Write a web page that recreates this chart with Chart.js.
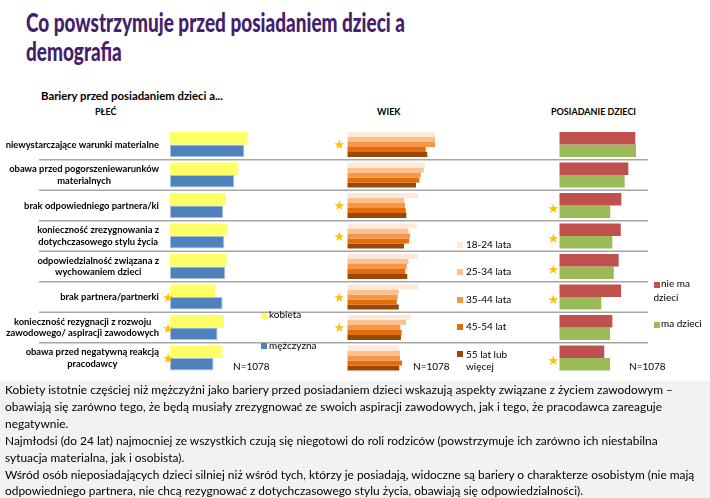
<!DOCTYPE html>
<html lang="pl">
<head>
<meta charset="UTF-8" />
<title>Co powstrzymuje przed posiadaniem dzieci a demografia</title>
<script src="https://cdn.jsdelivr.net/npm/chart.js@4"></script>
<style>
  html, body { margin: 0; padding: 0; background: #fff; }
  body { width: 710px; height: 498px; position: relative; overflow: hidden; font-family: 'Lato', 'Open Sans', Arial, sans-serif; color: #000; }
  canvas.layer { position: absolute; left: 0; top: 0; }
  .abs { position: absolute; white-space: nowrap; line-height: 12px; font-size: 10px; }
  .title { left: 26px; top: 8px; font-size: 26px; line-height: 28.5px; font-weight: 900; color: #44206b; transform-origin: 0 0; }
  .sub { left: 41px; top: 90px; font-size: 10.5px; font-weight: bold; transform-origin: 0 0; }
  .head { font-size: 9px; font-weight: bold; }
  .sq { position: absolute; width: 6px; height: 6px; }
  .note { left: 0; top: 381px; width: 710px; height: 117px; background: #f2f2f2; }
  .note-text { left: 5px; top: 382px; font-size: 12px; line-height: 16.9px; transform-origin: 0 0; }
</style>
</head>
<body>

<div class="abs note"></div>

<div class="abs title" id="title"><span id="title1">Co powstrzymuje przed posiadaniem dzieci a</span><br>demografia</div>
<div class="abs sub" id="sub">Bariery przed posiadaniem dzieci a...</div>
<div class="abs head" style="left:95px; top:106px;">PŁEĆ</div>
<div class="abs head" style="left:377px; top:106px;">WIEK</div>
<div class="abs head" style="left:551px; top:106px;">POSIADANIE DZIECI</div>

<canvas class="layer" id="chartPlec" width="710" height="498"></canvas>
<canvas class="layer" id="chartWiek" width="710" height="498"></canvas>
<canvas class="layer" id="chartDzieci" width="710" height="498"></canvas>

<!-- legendy -->
<div class="sq" style="left:261px; top:313px; background:#ffff66;"></div>
<div class="abs" style="left:269px; top:308px;">kobieta</div>
<div class="sq" style="left:261px; top:343px; background:#4f81bd;"></div>
<div class="abs" style="left:269px; top:339px;">mężczyzna</div>
<div class="abs" style="left:233px; top:360px;">N=1078</div>

<div class="sq" style="left:457px; top:242px; background:#fde9d9;"></div>
<div class="abs" style="left:466px; top:238px;">18-24 lata</div>
<div class="sq" style="left:457px; top:269px; background:#fac090;"></div>
<div class="abs" style="left:466px; top:265px;">25-34 lata</div>
<div class="sq" style="left:457px; top:297px; background:#f79646;"></div>
<div class="abs" style="left:466px; top:293px;">35-44 lata</div>
<div class="sq" style="left:457px; top:324px; background:#e46c0a;"></div>
<div class="abs" style="left:466px; top:320px;">45-54 lat</div>
<div class="sq" style="left:457px; top:351px; background:#984807;"></div>
<div class="abs" style="left:466px; top:347.5px; line-height:12.4px;">55 lat lub<br>więcej</div>
<div class="abs" style="left:413px; top:360px;">N=1078</div>

<div class="sq" style="left:653.5px; top:281.5px; background:#c0504d;"></div>
<div class="abs" style="left:661px; top:277px;">nie ma</div>
<div class="abs" style="left:653.5px; top:291px;">dzieci</div>
<div class="sq" style="left:653.5px; top:321.5px; background:#9bbb59;"></div>
<div class="abs" style="left:661px; top:317px;">ma dzieci</div>
<div class="abs" style="left:629px; top:360px;">N=1078</div>

<div class="abs note-text" id="note">
<span id="note1">Kobiety istotnie częściej niż mężczyźni jako bariery przed posiadaniem dzieci wskazują aspekty związane z życiem zawodowym –</span><br>
obawiają się zarówno tego, że będą musiały zrezygnować ze swoich aspiracji zawodowych, jak i tego, że pracodawca zareaguje<br>
negatywnie.<br>
Najmłodsi (do 24 lat) najmocniej ze wszystkich czują się niegotowi do roli rodziców (powstrzymuje ich zarówno ich niestabilna<br>
sytuacja materialna, jak i osobista).<br>
Wśród osób nieposiadających dzieci silniej niż wśród tych, którzy je posiadają, widoczne są bariery o charakterze osobistym (nie mają<br>
odpowiedniego partnera, nie chcą rezygnować z dotychczasowego stylu życia, obawiają się odpowiedzialności).
</div>

<script>
// ===========================================================
// Dane (% wskazań)
// ===========================================================
const categories = [
  "niewystarczające warunki materialne",
  ["obawa przed pogorszeniewarunków", "materialnych"],
  "brak odpowiedniego partnera/ki",
  ["konieczność zrezygnowania z", "dotychczasowego stylu życia"],
  ["odpowiedzialność związana z", "wychowaniem dzieci"],
  "brak partnera/partnerki",
  ["konieczność rezygnacji z rozwoju", "zawodowego/ aspiracji zawodowych"],
  ["obawa przed negatywną reakcją", "pracodawcy"]
];

// PŁEĆ
const kobieta   = [55.4, 48.8, 39.7, 40.7, 40.4, 32.4, 38.6, 37.4];
const mezczyzna = [53.1, 45.9, 38.1, 38.8, 39.5, 37.6, 34.0, 31.1];

// WIEK
const ageLabels = ["18-24 lata", "25-34 lata", "35-44 lata", "45-54 lat", "55 lat lub więcej"];
const wiek18_24 = [56.6, 50.1, 45.8, 44.8, 45.8, 46.1, 41.1, 33.2];
const wiek25_34 = [56.6, 49.3, 36.8, 39.4, 39.4, 33.2, 37.9, 34.0];
const wiek35_44 = [56.6, 47.4, 37.2, 40.5, 38.3, 32.5, 34.2, 34.0];
const wiek45_54 = [50.6, 46.5, 37.7, 39.8, 37.4, 31.9, 35.1, 35.3];
const wiek55    = [51.6, 44.3, 38.1, 36.6, 38.7, 33.2, 34.6, 33.5];

// POSIADANIE DZIECI
const nieMaDzieci = [54.3, 49.3, 44.3, 43.9, 42.4, 44.1, 37.9, 32.1];
const maDzieci    = [54.8, 46.7, 36.4, 37.9, 38.9, 30.0, 36.2, 36.2];

// istotne różnice (gwiazdki) – indeksy wierszy
const starsPlec   = [5, 6, 7];
const starsWiek   = [0, 2, 3, 5, 6];
const starsDzieci = [2, 3, 4, 5, 7];

// ===========================================================
// Pluginy: linie rozdzielające, etykiety kategorii, gwiazdki
// ===========================================================
const rowLines = {
  id: "rowLines",
  beforeDatasetsDraw(chart) {
    const { ctx } = chart;
    const y = chart.scales.y;
    ctx.save();
    ctx.strokeStyle = "#a6a6a6";
    ctx.lineWidth = 1.5;
    for (let i = 0; i < categories.length - 1; i++) {
      const py = (y.getPixelForValue(i) + y.getPixelForValue(i + 1)) / 2;
      ctx.beginPath();
      ctx.moveTo(39, py);
      ctx.lineTo(648, py);
      ctx.stroke();
    }
    ctx.restore();
  }
};

const catLabels = {
  id: "catLabels",
  afterDraw(chart) {
    const { ctx } = chart;
    const y = chart.scales.y;
    ctx.save();
    ctx.font = "bold 9.4px Lato";
    ctx.fillStyle = "#000";
    ctx.textAlign = "center";
    ctx.textBaseline = "middle";
    categories.forEach((lab, i) => {
      const lines = [].concat(lab);
      const w = Math.max(...lines.map((l) => ctx.measureText(l).width));
      const cx = 159 - w / 2;
      const cy = y.getPixelForValue(i);
      lines.forEach((l, j) => ctx.fillText(l, cx, cy + (j - (lines.length - 1) / 2) * 11.3));
    });
    ctx.restore();
  }
};

const stars = {
  id: "stars",
  afterDatasetsDraw(chart, args, opts) {
    if (!opts || !opts.rows) return;
    const { ctx, chartArea } = chart;
    const y = chart.scales.y;
    ctx.save();
    ctx.font = "13px 'DejaVu Sans'";
    ctx.fillStyle = "#ffc000";
    ctx.textAlign = "center";
    ctx.textBaseline = "middle";
    opts.rows.forEach((i) => ctx.fillText("★", chartArea.left + opts.dx, y.getPixelForValue(i) + opts.dy));
    ctx.restore();
  }
};

function makeChart(id, datasets, padding, starOpts, extra = []) {
  return new Chart(document.getElementById(id), {
    type: "bar",
    data: { labels: categories, datasets },
    options: {
      indexAxis: "y",
      responsive: false,
      animation: false,
      layout: { padding },
      datasets: { bar: { categoryPercentage: 0.82, barPercentage: 1, borderSkipped: false } },
      scales: {
        x: { display: false, min: 0, max: 100 },
        y: { display: false }
      },
      plugins: { legend: { display: false }, tooltip: { enabled: false }, stars: starOpts }
    },
    plugins: [...extra, stars]
  });
}

const bar = (label, data, color, border) => ({
  label, data, backgroundColor: color,
  borderColor: border || color, borderWidth: border ? 1 : 0
});

// PŁEĆ – obszar 170..310 px
makeChart("chartPlec", [
  bar("kobieta", kobieta, "#ffff66"),
  bar("mężczyzna", mezczyzna, "#4f81bd", "#a9c1e0")
], { left: 170, right: 400, top: 129.25, bottom: 124.75 }, { rows: starsPlec, dx: -2, dy: 2 }, [rowLines, catLabels]);

// WIEK – obszar 347..502 px
const ageColors = ["#fde9d9", "#fac090", "#f79646", "#e46c0a", "#984807"];
makeChart("chartWiek", [wiek18_24, wiek25_34, wiek35_44, wiek45_54, wiek55].map((d, i) =>
  bar(ageLabels[i], d, ageColors[i])
), { left: 347.3, right: 207.7, top: 129.25, bottom: 124.75 }, { rows: starsWiek, dx: -8, dy: 1.5 });

// POSIADANIE DZIECI – obszar 559..699 px
makeChart("chartDzieci", [
  bar("nie ma dzieci", nieMaDzieci, "#c0504d"),
  bar("ma dzieci", maDzieci, "#9bbb59")
], { left: 559.3, right: 10.7, top: 129.25, bottom: 124.75 }, { rows: starsDzieci, dx: -6, dy: 4 });

// dopasowanie szerokości tekstów do oryginału (Calibri jest węższe)
function fitTo(el, ref, target) {
  const w = ref.getBoundingClientRect().width;
  el.style.transform = `scaleX(${target / w})`;
}
fitTo(document.getElementById("title"), document.getElementById("title1"), 379);
fitTo(document.getElementById("sub"), document.getElementById("sub"), 182);
fitTo(document.getElementById("note"), document.getElementById("note1"), 668);
</script>
</body>
</html>
